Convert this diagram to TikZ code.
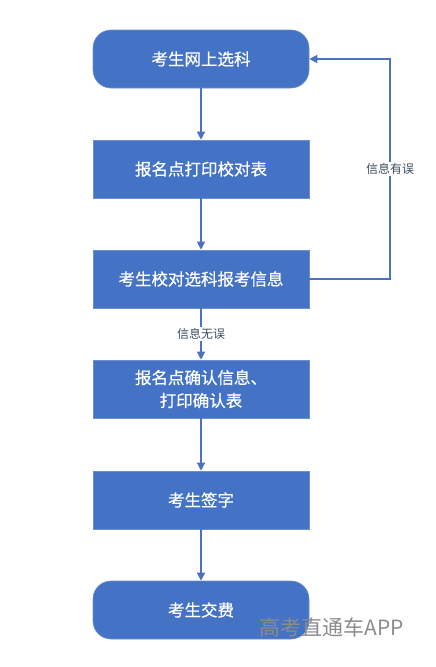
\documentclass[tikz,border=0pt]{standalone}
\usepackage{fontspec}
\setmainfont{Noto Sans CJK SC}
\newfontfamily\cjk{Noto Sans CJK SC}
\newfontfamily\cjkb[FakeBold=0.6]{Noto Sans CJK SC}
\usetikzlibrary{arrows.meta}
\definecolor{boxblue}{HTML}{4472C4}
\definecolor{boxedge}{HTML}{6C8FD0}
\definecolor{linkblue}{HTML}{4A72BE}
\definecolor{labgray}{HTML}{3E4C60}
\definecolor{wmgray}{HTML}{8C8C8C}
\tikzset{
  stepbox/.style={fill=boxblue, draw=boxedge, line width=0.6pt, minimum width=216pt, minimum height=58pt, inner sep=0pt, text=white, font=\cjkb\fontsize{16.5}{23}\selectfont, align=center},
  roundbox/.style={stepbox, rounded corners=18pt},
  link/.style={draw=linkblue, line width=1.3pt, -{Triangle[length=8pt,width=8pt]}},
  lab/.style={fill=white, text=labgray, inner sep=1pt, font=\cjk\fontsize{12}{13}\selectfont}
}
\begin{document}
\begin{tikzpicture}[x=1pt,y=-1pt]
\useasboundingbox[fill=white] (0,0) rectangle (436,667);
\node[roundbox] (n1) at (201,59) {考生网上选科};
\node[stepbox] (n2) at (201,169) {报名点打印校对表};
\node[stepbox] (n3) at (201,279) {考生校对选科报考信息};
\node[stepbox] (n4) at (201,389) {报名点确认信息、\\打印确认表};
\node[stepbox] (n5) at (201,500) {考生签字};
\node[roundbox] (n6) at (201,610) {考生交费};
\coordinate (c1) at (390,279);
\coordinate (c2) at (390,59);
\draw[link] (n1) -- (n2);
\draw[link] (n2) -- (n3);
\draw[link] (n3) -- node[lab] (l2) {信息无误} (n4);
\draw[link] (n4) -- (n5);
\draw[link] (n5) -- (n6);
\draw[link] (n3.east) -- (c1) -- (c2) -- (n1.east);
\node[lab] (l1) at (390,169) {信息有误};
\node[text=wmgray, font=\cjk\fontsize{21}{24}\selectfont, inner sep=0pt] (wm) at (332,627) {高考直通车APP};
\end{tikzpicture}
\end{document}
